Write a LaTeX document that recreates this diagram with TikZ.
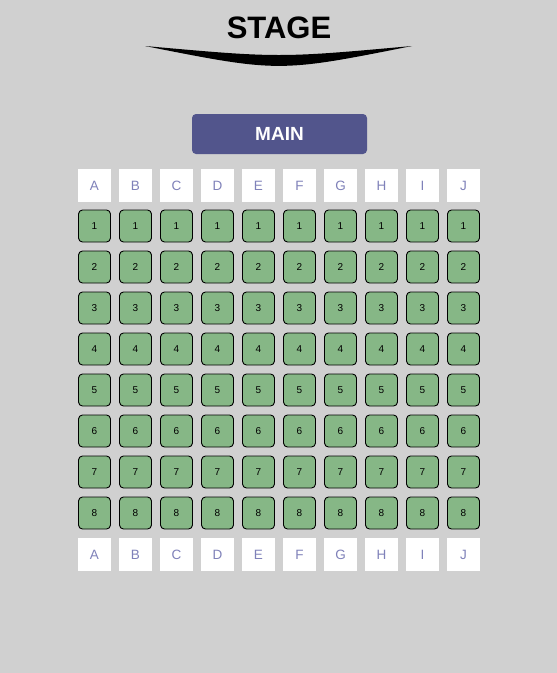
\documentclass[tikz,border=0pt]{standalone}
\usepackage{fontspec}
\setmainfont{Liberation Sans}
\usetikzlibrary{positioning}

\definecolor{hallgray}{HTML}{D0D0D0}
\definecolor{mainblue}{HTML}{52558C}
\definecolor{lettercol}{HTML}{7F81B9}
\definecolor{seatgreen}{HTML}{86B786}

\tikzset{
    letterbox/.style={fill=white, minimum width=33pt, minimum height=33pt,
        inner sep=0pt, text=lettercol, font=\fontsize{13.5}{13.5}\selectfont},
    seat/.style={draw=black, fill=seatgreen, rounded corners=4pt, line width=0.9pt,
        minimum width=32pt, minimum height=32pt, inner sep=0pt,
        font=\fontsize{10}{10}\selectfont}
}

\begin{document}
\begin{tikzpicture}[x=1pt, y=-1pt]
    \fill[hallgray] (0,0) rectangle (557,673);
    \useasboundingbox (0,0) rectangle (557,673);

    % stage
    \node[font=\bfseries\fontsize{31}{31}\selectfont] (stage) at (279,28) {STAGE};
    \fill[black] (145,46) .. controls (279,58) .. (412,46)
        .. controls (279,72.5) .. (145,46) -- cycle;

    \node[fill=mainblue, rounded corners=4pt, minimum width=175pt, minimum height=40pt,
        text=white, font=\bfseries\fontsize{19}{19}\selectfont] (main) at (279.5,134) {MAIN};

    % seats
    \foreach \col [count=\i from 0] in {A,B,C,D,E,F,G,H,I,J} {
        \node[letterbox] (top\col) at (94.5+41*\i,185.5) {\col};
        \node[letterbox] (bot\col) at (94.5+41*\i,554.5) {\col};
        \foreach \row in {1,...,8} {
            \node[seat] (seat\col\row) at (94.5+41*\i,185+41*\row) {\row};
        }
    }
\end{tikzpicture}
\end{document}
